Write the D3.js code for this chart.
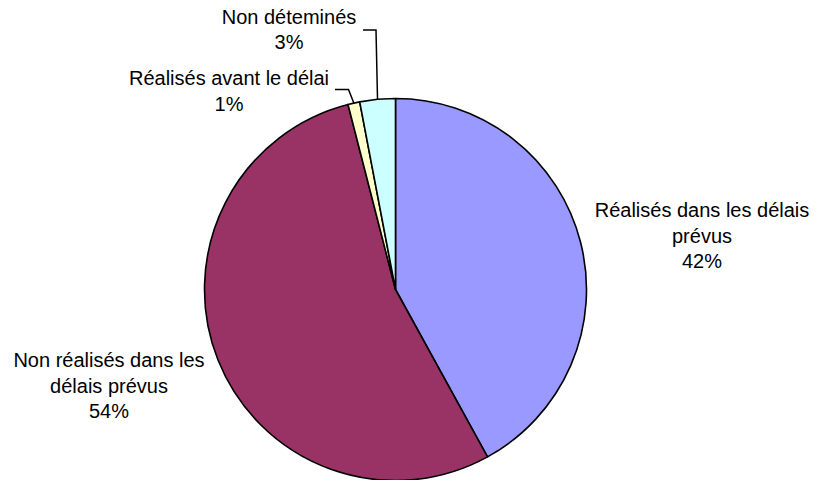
<!DOCTYPE html>
<html>
<head>
<meta charset="utf-8">
<script src="https://cdn.jsdelivr.net/npm/d3@7"></script>
<style>
  html, body { margin: 0; padding: 0; background: #ffffff; }
  svg { display: block; }
  text { font-family: "Liberation Sans", Arial, sans-serif; font-size: 20px; fill: #000; }
</style>
</head>
<body>
<svg id="chart" width="817" height="480"></svg>
<script>
// Categories, shares (%) and slice colours
const categories = [
  "Réalisés dans les délais prévus",
  "Non réalisés dans les délais prévus",
  "Réalisés avant le délai",
  "Non déteminés"
];
const values = [42, 54, 1, 3];
const colors = ["#9999FF", "#993366", "#FFFFCC", "#CCFFFF"];

// Label text split into lines, last line is the percentage
const labelLines = [
  ["Réalisés dans les délais", "prévus"],
  ["Non réalisés dans les", "délais prévus"],
  ["Réalisés avant le délai"],
  ["Non déteminés"]
];

const W = 817, H = 480;
const cx = 395.5, cy = 289.5, R = 191;
const lineH = 25.7;

const svg = d3.select("#chart");
const g = svg.append("g").attr("transform", `translate(${cx},${cy})`);

const pie = d3.pie().sort(null).value(d => d.value);
const arc = d3.arc().innerRadius(0).outerRadius(R);

const data = categories.map((c, i) => ({ name: c, value: values[i], color: colors[i], lines: labelLines[i] }));
const arcs = pie(data);

g.selectAll("path.slice")
  .data(arcs)
  .join("path")
  .attr("class", "slice")
  .attr("d", arc)
  .attr("fill", d => d.data.color)
  .attr("stroke", "#000")
  .attr("stroke-width", 1.6)
  .attr("stroke-linejoin", "round");

// Label anchor (centre x, first baseline y) in page coordinates
const labelPos = [
  { x: 702, y: 217 },
  { x: 109, y: 367 },
  { x: 229, y: 85 },
  { x: 289, y: 23.5 }
];

// Leader lines for the two thin slices: from label side, across, then down to the rim
const leaders = [
  null,
  null,
  { x0: 335, y0: 89.5, x1: 348.5 },
  { x0: 363, y0: 30, x1: 376 }
];

arcs.forEach((a, i) => {
  const p = labelPos[i];
  const lines = a.data.lines.concat([d3.format(".0f")(a.data.value) + "%"]);
  const t = svg.append("text").attr("text-anchor", "middle");
  lines.forEach((ln, k) => {
    t.append("tspan").attr("x", p.x).attr("y", p.y + k * lineH).text(ln);
  });
  const L = leaders[i];
  if (L) {
    const mid = (a.startAngle + a.endAngle) / 2;
    const ex = cx + R * Math.sin(mid);
    const ey = cy - R * Math.cos(mid);
    svg.append("path")
      .attr("d", `M${L.x0},${L.y0}H${L.x1}L${ex},${ey}`)
      .attr("fill", "none")
      .attr("stroke", "#000")
      .attr("stroke-width", 1.5);
  }
});
</script>
</body>
</html>
